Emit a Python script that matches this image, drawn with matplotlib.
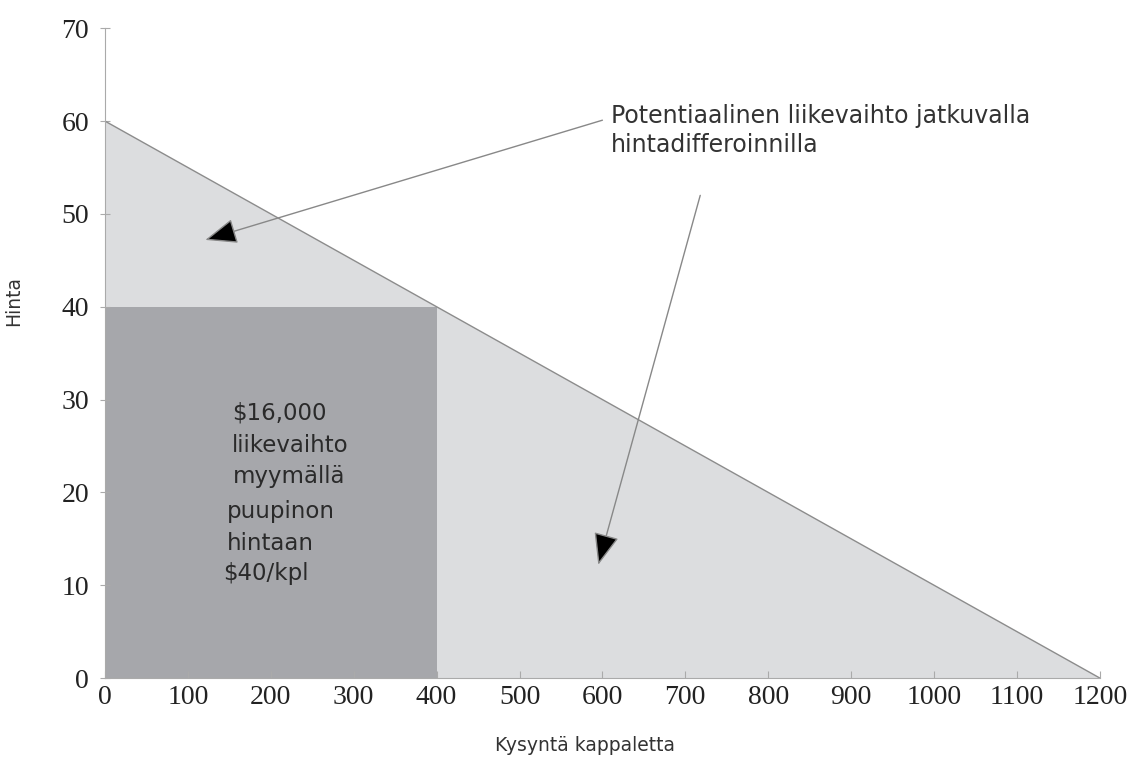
import matplotlib.pyplot as plt

# demand line (hinta vs kysyntä)
demand_q = [0, 1200]
demand_p = [60, 0]
sale_q = 400
sale_p = 40

x_ticks = [0, 100, 200, 300, 400, 500, 600, 700, 800, 900, 1000, 1100, 1200]
y_ticks = [0, 10, 20, 30, 40, 50, 60, 70]

box_lines = ["$16,000", "liikevaihto", "myymällä", "puupinon", "hintaan", "$40/kpl"]
note = "Potentiaalinen liikevaihto jatkuvalla\nhintadifferoinnilla"

fig = plt.figure(figsize=(11.48, 7.65), dpi=100)
ax = fig.add_axes([0.0915, 0.1137, 0.8665, 0.8493])

# potential revenue triangle
ax.fill([demand_q[0], demand_q[1], 0], [demand_p[0], demand_p[1], 0],
        color="#dcdddf", lw=0)
ax.plot(demand_q, demand_p, color="#8c8c8c", lw=1)
# revenue at single price
ax.fill([0, sale_q, sale_q, 0], [0, 0, sale_p, sale_p], color="#a6a7ab", lw=0)

ax.set_xlim(0, 1200)
ax.set_ylim(0, 70)
ax.set_xticks(x_ticks)
ax.set_yticks(y_ticks)
for lab in ax.get_xticklabels() + ax.get_yticklabels():
    lab.set_family("Liberation Serif")
    lab.set_fontsize(20)
    lab.set_color("#222222")
ax.tick_params(axis="x", direction="in", length=5, color="#aaaaaa", pad=5)
ax.tick_params(axis="y", direction="inout", length=7, color="#aaaaaa", pad=8)
for s in ["top", "right"]:
    ax.spines[s].set_visible(False)
for s in ["left", "bottom"]:
    ax.spines[s].set_color("#aaaaaa")

ax.set_xlabel("Kysyntä kappaletta", fontsize=13.5, color="#333333")
ax.set_ylabel("Hinta", fontsize=13.5, color="#333333")
ax.xaxis.set_label_coords(0.482, -0.09)
ax.yaxis.set_label_coords(-0.082, 0.58)

# text inside the dark box
box_x = [153, 153, 154, 147, 147, 142]
box_y = [28.6, 25.1, 21.7, 17.9, 14.5, 11.3]
for t, bx, by in zip(box_lines, box_x, box_y):
    ax.text(bx, by, t, fontsize=16.5, color="#2a2a2a", va="center", ha="left")

ax.text(610, 59.0, note, fontsize=17, color="#333333",
        va="center", ha="left", linespacing=1.3)

arrow_style = dict(arrowstyle="-|>,head_length=1.0,head_width=0.4",
                   mutation_scale=20, fc="black", ec="#888888", lw=1,
                   shrinkA=0, shrinkB=0)
ax.annotate("", xy=(121, 47.2), xytext=(600, 60.1),
            arrowprops=arrow_style)
ax.annotate("", xy=(595, 12.2), xytext=(718, 52.0),
            arrowprops=arrow_style)

plt.savefig("out.png", dpi=100)
